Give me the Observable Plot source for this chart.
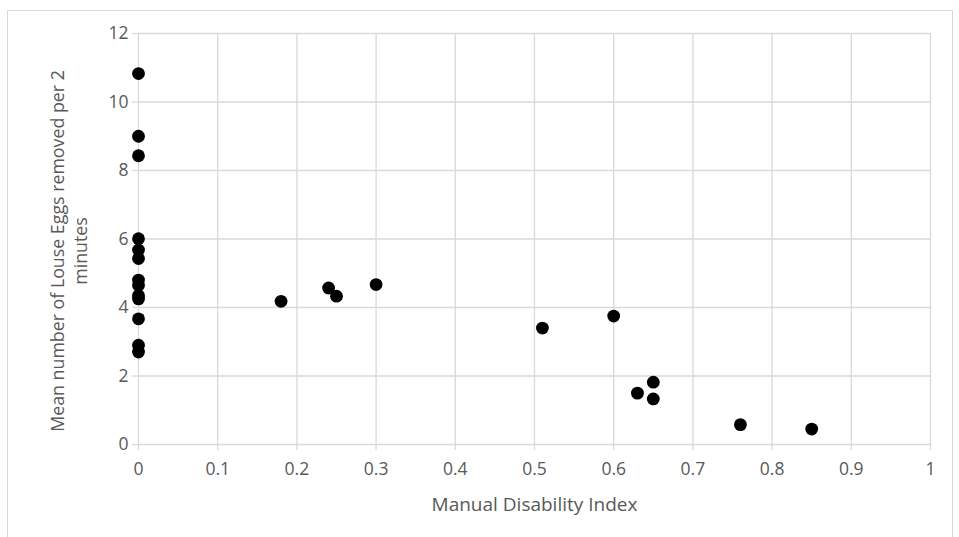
<!DOCTYPE html>
<html>
<head>
<meta charset="utf-8">
<script src="https://cdn.jsdelivr.net/npm/d3@7"></script>
<script src="https://cdn.jsdelivr.net/npm/@observablehq/plot@0.6"></script>
<style>
  html, body { margin: 0; padding: 0; background: #fff; }
  #wrap { position: relative; width: 959px; height: 537px; overflow: hidden; }
  #frame { position: absolute; left: 7px; top: 10px; width: 946px; height: 560px; border: 1px solid #d9d9d9; box-sizing: border-box; pointer-events: none; }
  #chart { position: absolute; left: 0; top: 0; }
</style>
</head>
<body>
<div id="wrap"><div id="frame"></div><div id="chart"></div></div>
<script>
const disabilityIndex = [0, 0, 0, 0, 0, 0, 0, 0, 0, 0, 0, 0, 0,
  0.18, 0.24, 0.25, 0.30, 0.51, 0.60, 0.63, 0.65, 0.65, 0.76, 0.85];
const eggsRemoved = [10.83, 9.0, 8.43, 6.01, 5.68, 5.43, 4.8, 4.65, 4.35, 4.25, 3.67, 2.9, 2.7,
  4.18, 4.57, 4.33, 4.67, 3.4, 3.75, 1.5, 1.82, 1.33, 0.58, 0.45];
const xTicks = [0, 0.1, 0.2, 0.3, 0.4, 0.5, 0.6, 0.7, 0.8, 0.9, 1];
const yTicks = [0, 2, 4, 6, 8, 10, 12];
const xTitle = "Manual Disability Index";
const yTitle = "Mean number of Louse Eggs removed per 2\nminutes";

const data = disabilityIndex.map((x, i) => ({x, y: eggsRemoved[i]}));
const font = "'Open Sans', sans-serif";
const grid = "#d9d9d9";
const ink = "#595959";

const chart = Plot.plot({
  width: 959,
  height: 537,
  marginLeft: 138,
  marginRight: 29,
  marginTop: 33,
  marginBottom: 93,
  style: {fontFamily: font, fontSize: "17px", color: ink, background: "transparent"},
  x: {domain: [0, 1]},
  y: {domain: [0, 12]},
  marks: [
    Plot.gridX(xTicks, {stroke: grid, strokeOpacity: 1, strokeWidth: 1.3}),
    Plot.gridY(yTicks, {stroke: grid, strokeOpacity: 1, strokeWidth: 1.3}),
    Plot.axisX(xTicks, {tickSize: 6, stroke: grid, strokeWidth: 1.3, tickPadding: 12, label: null, fontSize: 17.5, fill: ink, tickFormat: d => String(d)}),
    Plot.axisY(yTicks, {tickSize: 6, stroke: grid, strokeWidth: 1.3, tickPadding: 4, label: null, fontSize: 17.5, fill: ink}),
    Plot.dot(data, {x: "x", y: "y", r: 6.4, fill: "#000", stroke: null}),
    Plot.text([xTitle], {frameAnchor: "bottom", dy: 66, fontSize: 19, fill: ink}),
    Plot.text([yTitle], {frameAnchor: "left", textAnchor: "middle", rotate: -90, dx: -70, dy: 12, fontSize: 17.8, fill: ink, lineHeight: 1.3})
  ]
});
document.getElementById("chart").appendChild(chart);
</script>
</body>
</html>
